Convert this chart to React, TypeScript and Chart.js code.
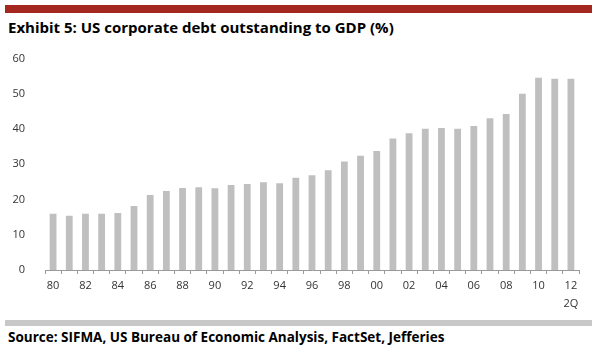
import React, { useEffect, useRef } from "react";
import { Chart, registerables } from "chart.js";

Chart.register(...registerables);

const years: string[] = [
  "80", "81", "82", "83", "84", "85", "86", "87", "88", "89",
  "90", "91", "92", "93", "94", "95", "96", "97", "98", "99",
  "00", "01", "02", "03", "04", "05", "06", "07", "08", "09",
  "10", "11", "12",
];

const debtToGdp: number[] = [
  16.0, 15.4, 16.0, 16.0, 16.2, 18.2, 21.3, 22.4, 23.3, 23.5,
  23.2, 24.1, 24.4, 24.9, 24.6, 26.2, 26.9, 28.3, 30.8, 32.4,
  33.8, 37.3, 38.8, 40.1, 40.3, 40.1, 40.9, 43.1, 44.3, 50.0,
  54.6, 54.3, 54.3,
];

const lastLabelSuffix = "2Q";
const title = "Exhibit 5: US corporate debt outstanding to GDP (%)";
const source = "Source: SIFMA, US Bureau of Economic Analysis, FactSet, Jefferies";

export default function App() {
  const canvasRef = useRef<HTMLCanvasElement | null>(null);

  useEffect(() => {
    document.body.style.margin = "0";
    const ctx = canvasRef.current;
    if (!ctx) return;
    const chart = new Chart(ctx, {
      type: "bar",
      data: {
        labels: years,
        datasets: [
          {
            data: debtToGdp,
            backgroundColor: "#bfbfbf",
            borderWidth: 0,
            barPercentage: 0.42,
            categoryPercentage: 1,
          },
        ],
      },
      options: {
        animation: false,
        responsive: false,
        maintainAspectRatio: false,
        layout: { padding: { top: 10, right: 18, left: 0, bottom: 0 } },
        plugins: { legend: { display: false }, tooltip: { enabled: false } },
        scales: {
          x: {
            afterFit: (scale: any) => {
              scale.height = 45;
            },
            grid: {
              display: true,
              offset: true,
              drawOnChartArea: false,
              drawTicks: true,
              tickLength: 4,
              color: "#9a9a9a",
            },
            border: { display: true, color: "#9a9a9a", width: 1 },
            ticks: {
              autoSkip: false,
              maxRotation: 0,
              padding: 3,
              color: "#333333",
              font: { family: "Open Sans", size: 11, lineHeight: 1.65 },
              callback: (_v: any, i: number) => {
                if (i % 2 !== 0) return "";
                if (i === years.length - 1) return [years[i], lastLabelSuffix];
                return years[i];
              },
            },
          },
          y: {
            min: 0,
            max: 60,
            afterFit: (scale: any) => {
              scale.width = 45;
            },
            grid: { display: false },
            border: { display: false },
            ticks: {
              stepSize: 10,
              padding: 12,
              color: "#333333",
              font: { family: "Open Sans", size: 11 },
            },
          },
        },
      },
    });
    return () => chart.destroy();
  }, []);

  return (
    <div style={{ position: "relative", width: 597, height: 352, background: "#fff", fontFamily: "Open Sans" }}>
      <div style={{ position: "absolute", left: 5, top: 5, width: 587, height: 8, background: "#a4281f" }} />
      <div
        style={{
          position: "absolute",
          left: 8,
          top: 17,
          fontSize: 15,
          fontWeight: 700,
          color: "#000",
          whiteSpace: "nowrap",
          fontFamily: "Open Sans",
        }}
      >
        {title}
      </div>
      <canvas ref={canvasRef} width={597} height={275} style={{ position: "absolute", left: 0, top: 40 }} />
      <div style={{ position: "absolute", left: 5, top: 320, width: 587, height: 6, background: "#c8c8c8" }} />
      <div
        style={{
          position: "absolute",
          left: 8,
          top: 328,
          fontSize: 13.5,
          fontWeight: 700,
          color: "#000",
          whiteSpace: "nowrap",
          fontFamily: "Open Sans",
        }}
      >
        {source}
      </div>
    </div>
  );
}
